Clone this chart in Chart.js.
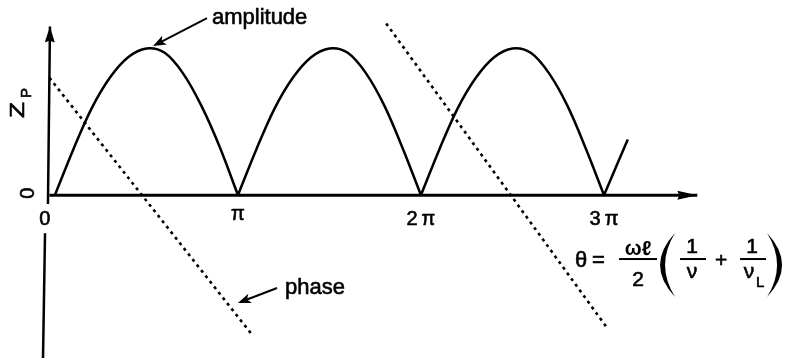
<!DOCTYPE html>
<html>
<head>
<meta charset="utf-8">
<script src="https://cdn.jsdelivr.net/npm/chart.js"></script>
<style>
  body { margin: 0; background: #fff; }
  #wrap { width: 787px; height: 358px; }
</style>
</head>
<body>
<div id="wrap"><canvas id="myChart"></canvas></div>
<script>
// theta in units of pi, Zp normalised to the peak height
const thetaValues = [0, 0.1, 0.2, 0.3, 0.4, 0.5, 0.6, 0.7, 0.8, 0.9, 1.0,
    1.1, 1.2, 1.3, 1.4, 1.5, 1.6, 1.7, 1.8, 1.9, 2.0,
    2.1, 2.2, 2.3, 2.4, 2.5, 2.6, 2.7, 2.8, 2.9, 3.0, 3.13];
const amplitudeValues = [0, 0.31, 0.59, 0.80, 0.94, 1.0, 0.97, 0.83, 0.61, 0.33, 0,
    0.31, 0.59, 0.80, 0.94, 1.0, 0.97, 0.83, 0.61, 0.32, 0,
    0.31, 0.59, 0.80, 0.94, 1.0, 0.97, 0.83, 0.61, 0.32, 0, 0.38];

const phaseTheta1 = [-0.03, 1.07];
const phaseValues1 = [0.80, -0.94];
const phaseTheta2 = [1.81, 3.02];
const phaseValues2 = [1.17, -0.91];

// axis lines (the vertical one is broken by the "0" label)
const xAxisTheta = [-0.03, 3.51];
const xAxisValues = [0, 0];
const yAxisTheta = [-0.038, -0.027];
const yAxisValues = [-0.06, 1.15];
const yAxisLowTheta = [-0.054, -0.065];
const yAxisLowValues = [-0.26, -1.11];

const tickValues = [0, 1, 2, 3];
const tickLabels = ['0', 'π', '2\u2009π', '3\u2009π'];

// where the notes sit, in data units
const notes = {
    amplitude: { text: [0.858, 1.166], tail: [0.831, 1.207], tip: [0.536, 1.016] },
    phase: { text: [1.257, -0.674], tail: [1.214, -0.633], tip: [1.0, -0.735] },
    formula: [2.842, -0.4355],
    zLabel: [-0.2, 0.58]
};

const FONT = '"Liberation Sans", Arial, Helvetica, sans-serif';

function toPoints(xs, ys) {
    return xs.map(function(x, i) { return { x: x, y: ys[i] }; });
}

// break the |sin| curve at each zero so the V bottoms stay sharp
function splitArches(xs, ys) {
    var arches = [];
    var current = [];
    xs.forEach(function(x, i) {
        current.push({ x: x, y: ys[i] });
        if (ys[i] === 0 && current.length > 1) {
            arches.push(current);
            current = [{ x: x, y: 0 }];
        }
    });
    if (current.length > 1) arches.push(current);
    return arches;
}

function lineSet(data, width, dash) {
    return {
        data: data,
        showLine: true,
        borderColor: '#000',
        borderWidth: width,
        borderDash: dash || [],
        borderCapStyle: 'butt',
        pointRadius: 0,
        fill: false
    };
}

function arrowHead(ctx, fx, fy, tx, ty, len, half, notch) {
    var a = Math.atan2(ty - fy, tx - fx);
    var c = Math.cos(a), s = Math.sin(a);
    ctx.beginPath();
    ctx.moveTo(tx, ty);
    ctx.lineTo(tx - len * c - half * s, ty - len * s + half * c);
    ctx.lineTo(tx - len * notch * c, ty - len * notch * s);
    ctx.lineTo(tx - len * c + half * s, ty - len * s - half * c);
    ctx.closePath();
    ctx.fill();
}

function paren(ctx, x, top, bottom, outer, inner) {
    ctx.beginPath();
    ctx.moveTo(x, top);
    ctx.quadraticCurveTo(outer, (top + bottom) / 2, x, bottom);
    ctx.quadraticCurveTo(inner, (top + bottom) / 2, x, top);
    ctx.fill();
}

// scanned print looks a bit heavier than plain canvas text
function inkText(ctx, str, x, y) {
    ctx.fillText(str, x, y);
    ctx.strokeText(str, x, y);
}

const decorations = {
    id: 'decorations',
    afterDatasetsDraw: function(chart) {
        var ctx = chart.ctx;
        var xs = chart.scales.x, ys = chart.scales.y;
        var px = function(v) { return xs.getPixelForValue(v); };
        var py = function(v) { return ys.getPixelForValue(v); };

        ctx.save();
        ctx.fillStyle = '#000';
        ctx.strokeStyle = '#000';

        // axis arrows
        arrowHead(ctx, px(xAxisTheta[0]), py(xAxisValues[0]), px(xAxisTheta[1]), py(xAxisValues[1]), 20, 4.5, 0.9);
        arrowHead(ctx, px(yAxisTheta[0]), py(yAxisValues[0]), px(yAxisTheta[1]), py(yAxisValues[1]), 16, 5, 0.9);

        ctx.lineWidth = 0.6;

        // tick labels under the theta axis
        ctx.font = '20px ' + FONT;
        ctx.textAlign = 'center';
        ctx.textBaseline = 'alphabetic';
        tickValues.forEach(function(v, i) {
            var dx = v === 0 ? -10 : 0;
            var dy = tickLabels[i] === 'π' ? 25 : 30;
            inkText(ctx, tickLabels[i], px(v) + dx, py(0) + dy);
        });

        // rotated "0" and Zp on the vertical axis
        ctx.save();
        ctx.translate(px(0) - 26, py(0) - 2);
        ctx.rotate(-Math.PI / 2);
        ctx.textBaseline = 'middle';
        inkText(ctx, '0', 0, 0);
        ctx.restore();

        ctx.save();
        ctx.translate(px(notes.zLabel[0]), py(notes.zLabel[1]));
        ctx.rotate(-Math.PI / 2);
        ctx.textBaseline = 'middle';
        ctx.save();
        ctx.scale(1.25, 1);
        ctx.font = '21px ' + FONT;
        inkText(ctx, 'Z', 0, 0);
        ctx.restore();
        ctx.font = '15px ' + FONT;
        inkText(ctx, 'P', 17, 9);
        ctx.restore();

        // notes with arrows
        ctx.font = '22px ' + FONT;
        ctx.textAlign = 'left';
        ctx.textBaseline = 'alphabetic';
        ['amplitude', 'phase'].forEach(function(k) {
            var n = notes[k];
            ctx.lineWidth = 0.6;
            inkText(ctx, k, px(n.text[0]), py(n.text[1]));
            var x0 = px(n.tail[0]), y0 = py(n.tail[1]);
            var x1 = px(n.tip[0]), y1 = py(n.tip[1]);
            ctx.lineWidth = 2;
            ctx.beginPath();
            ctx.moveTo(x0, y0);
            ctx.lineTo(x1 + (x0 - x1) * 0.15, y1 + (y0 - y1) * 0.15);
            ctx.stroke();
            arrowHead(ctx, x0, y0, x1, y1, 13, 5, 0.75);
        });

        // theta = (omega l / 2)(1/v + 1/vL)
        var fx = px(notes.formula[0]), fy = py(notes.formula[1]);
        ctx.lineWidth = 0.6;
        ctx.font = '22px ' + FONT;
        inkText(ctx, 'θ', fx, fy + 8);
        inkText(ctx, '=', fx + 17, fy + 8);
        ctx.textAlign = 'center';
        ctx.font = 'bold 20px ' + FONT;
        ctx.fillText('ωℓ', fx + 63, fy - 4);
        ctx.font = '21px ' + FONT;
        inkText(ctx, '2', fx + 63, fy + 27);
        ctx.fillRect(fx + 44, fy - 1, 38, 2);
        paren(ctx, fx + 100, fy - 26, fy + 38, fx + 70, fx + 80);
        inkText(ctx, '1', fx + 117, fy - 6);
        ctx.fillRect(fx + 105, fy - 1, 26, 2);
        inkText(ctx, 'ν', fx + 117, fy + 19);
        inkText(ctx, '+', fx + 146, fy + 8);
        inkText(ctx, '1', fx + 177, fy - 6);
        ctx.fillRect(fx + 165, fy - 1, 26, 2);
        inkText(ctx, 'ν', fx + 174, fy + 19);
        ctx.textAlign = 'left';
        ctx.font = '15px ' + FONT;
        inkText(ctx, 'L', fx + 181, fy + 28);
        paren(ctx, fx + 192, fy - 26, fy + 38, fx + 222, fx + 212);

        ctx.restore();
    }
};

window.onload = function() {
    var datasets = [];

    splitArches(thetaValues, amplitudeValues).forEach(function(arch) {
        var ds = lineSet(arch, 2.5);
        ds.tension = 0.35;
        datasets.push(ds);
    });

    datasets.push(lineSet(toPoints(phaseTheta1, phaseValues1), 2.6, [3, 4]));
    datasets.push(lineSet(toPoints(phaseTheta2, phaseValues2), 2.6, [3, 4]));
    datasets.push(lineSet(toPoints(xAxisTheta, xAxisValues), 3));
    datasets.push(lineSet(toPoints(yAxisTheta, yAxisValues), 2.5));
    datasets.push(lineSet(toPoints(yAxisLowTheta, yAxisLowValues), 2.5));

    new Chart(document.getElementById('myChart'), {
        type: 'scatter',
        data: { datasets: datasets },
        options: {
            responsive: true,
            maintainAspectRatio: false,
            animation: false,
            devicePixelRatio: 1,
            layout: { padding: 0 },
            plugins: {
                legend: { display: false },
                tooltip: { enabled: false }
            },
            scales: {
                x: { type: 'linear', min: -0.3, max: 4.0, display: false },
                y: { type: 'linear', min: -1.11, max: 1.33, display: false }
            }
        },
        plugins: [decorations]
    });
};
</script>
</body>
</html>
